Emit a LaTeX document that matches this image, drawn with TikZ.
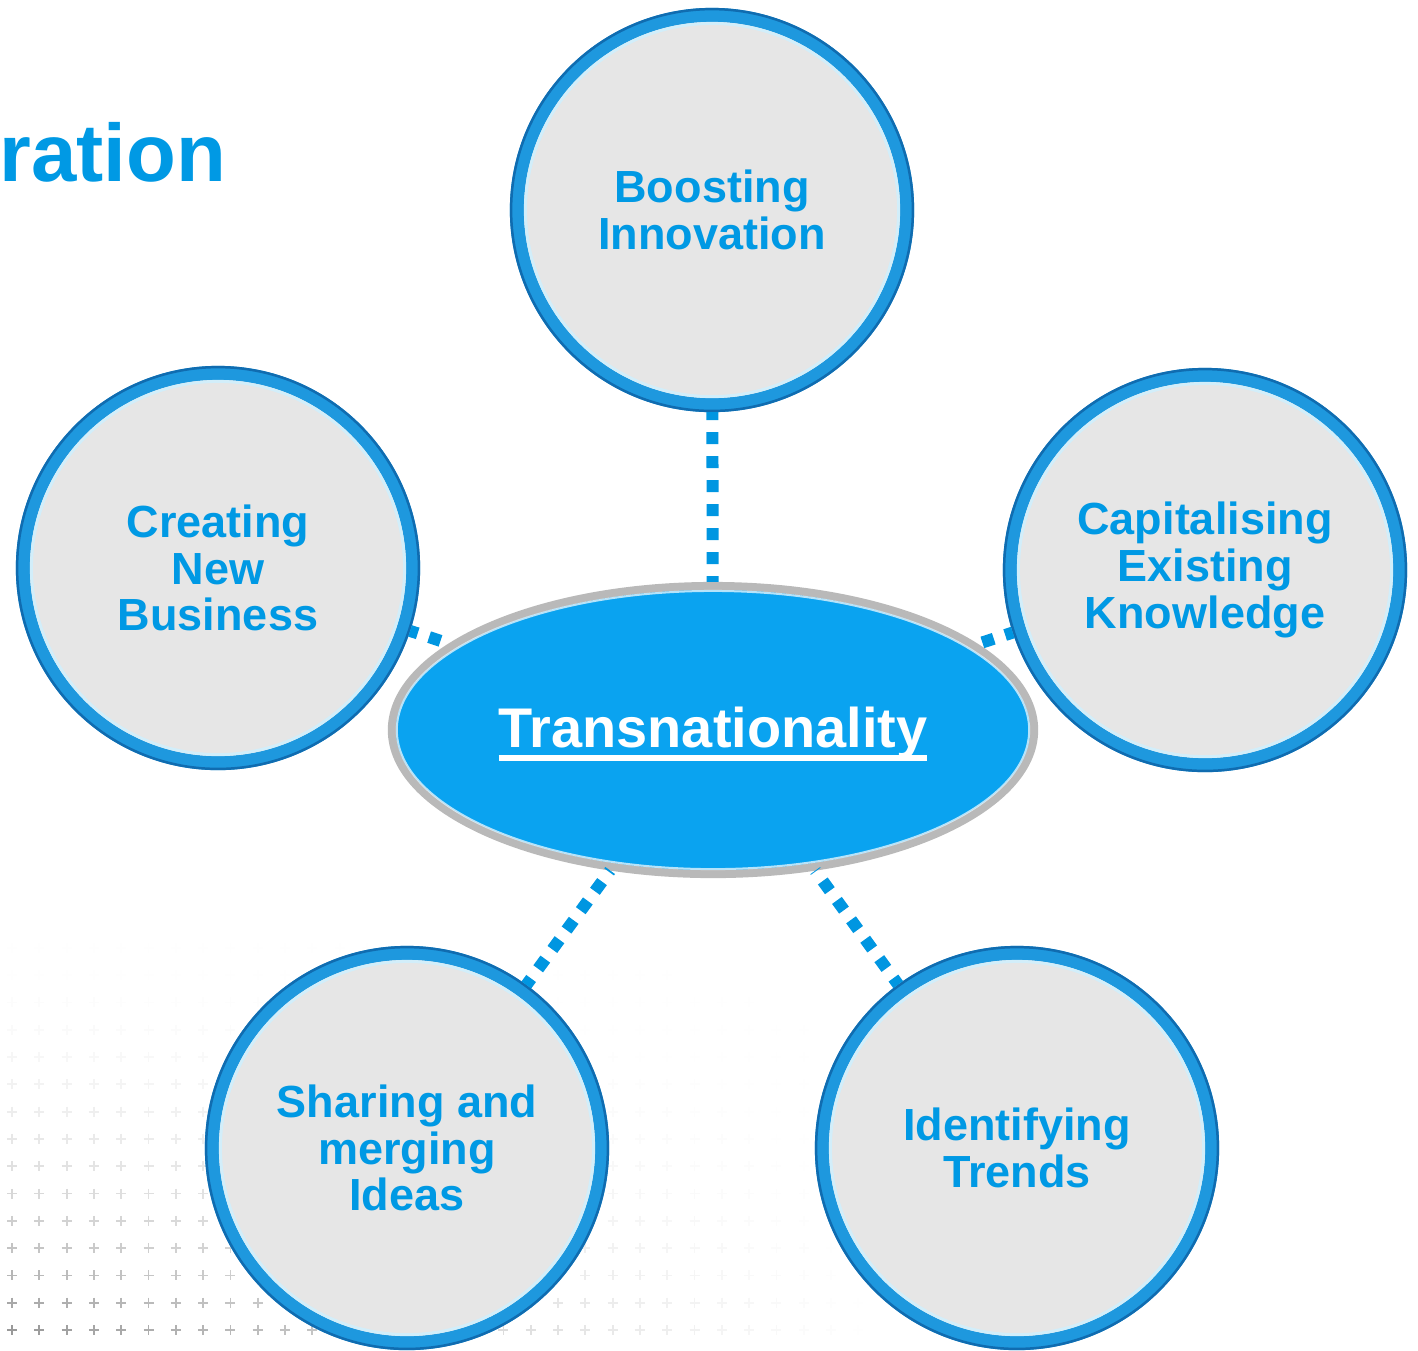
\documentclass[tikz,border=0pt]{standalone}
\usepackage{fontspec}
\setmainfont{Liberation Sans}
\usepackage{tikz}
\usetikzlibrary{shapes.geometric}
\definecolor{txtblue}{RGB}{0,153,228}
\definecolor{ringblue}{RGB}{30,152,222}
\definecolor{rimblue}{RGB}{16,108,176}
\definecolor{glintblue}{RGB}{210,238,250}
\definecolor{hubblue}{RGB}{10,163,240}
\definecolor{bubblegray}{RGB}{230,230,230}
\definecolor{dotblue}{RGB}{0,150,225}
\newcommand{\thickul}[1]{\vtop{\hbox{\raisebox{0pt}[\height][0pt]{#1}}\kern2.3pt\hrule height1.7pt}}

\begin{document}
\begin{tikzpicture}[x=0.01cm,y=-0.01cm,join=round, %hub with 5 bubbles
        bubble/.style={circle,draw=ringblue,line width=0.14cm,fill=bubblegray,minimum size=3.9cm,inner sep=0pt,
                align=center,text=txtblue,font=\fontsize{12.8}{13.3}\selectfont\bfseries},
        hub/.style={ellipse,draw=gray!55,line width=0.08cm,fill=hubblue,minimum width=6.42cm,minimum height=2.88cm,
                inner sep=0pt,text=white,font=\fontsize{15.9}{18}\selectfont\bfseries},
        dots/.style={draw=dotblue,line width=0.12cm,dash pattern=on 0.12cm off 0.12cm,dash phase=0.04cm}]
        \useasboundingbox (0,0) rectangle (1418,1350);
        % faint crosses in the lower left
        \foreach \row in {0,...,15}
                \foreach \col in {0,...,31}{
                        \pgfmathsetmacro{\op}{0.8*(1-\row/16)^2.5*max(0,1-\col/32)^1.3}
                        \pgfmathsetmacro{\px}{12+27.3*\col}
                        \pgfmathsetmacro{\py}{1330-27.3*\row}
                        \draw[gray,opacity=\op,line width=0.018cm] (\px-5,\py)--(\px+5,\py) (\px,\py-5)--(\px,\py+5);
                }
        \node[anchor=base west,inner sep=0pt,text=txtblue,font=\fontsize{23.2}{28}\selectfont\bfseries] (title) at (-1,181) {ration};
        \node[bubble] (boost) at (712,210) {Boosting\\Innovation};
        \node[bubble] (create) at (218,568) {Creating\\New\\Business};
        \node[bubble] (capital) at (1205,570) {Capitalising\\Existing\\Knowledge};
        \node[bubble] (share) at (407,1148) {Sharing and\\merging\\Ideas};
        \node[bubble] (trend) at (1017,1148) {Identifying\\Trends};
        \foreach \n in {boost,create,capital,share,trend}{
                \draw[rimblue,line width=0.025cm] (\n.center) circle (2.008cm);
                \draw[glintblue,line width=0.03cm] (\n.center) circle (1.865cm);
        }
        \node[hub,text height=0.49cm,text depth=0.15cm] (trans) at (713,730) {\thickul{Transnationality}};
        \draw[white,opacity=0.7,line width=0.02cm] (trans.center) ellipse [x radius=3.16cm,y radius=1.39cm];
        \draw[dots] (boost) -- (trans);
        \draw[dots] (create) -- (trans);
        \draw[dots] (capital) -- (trans);
        \draw[dots] (share) -- (trans);
        \draw[dots] (trend) -- (trans);
\end{tikzpicture}
\end{document}
